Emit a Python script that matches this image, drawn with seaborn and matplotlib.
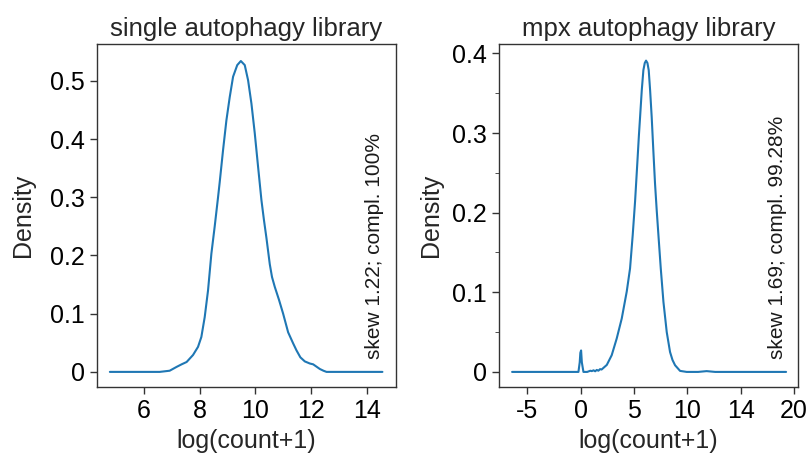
import numpy as np
import pandas as pd
import matplotlib
matplotlib.use("Agg")
import matplotlib.pyplot as plt
from matplotlib.ticker import AutoMinorLocator
import seaborn as sns

# density curves (log(count+1) vs density)
single_x = [4.77, 6.0, 6.56, 6.92, 7.17, 7.35, 7.53, 7.76, 7.94, 8.06, 8.18, 8.30,
            8.42, 8.54, 8.66, 8.72, 8.84, 8.96, 9.08, 9.20, 9.35, 9.48, 9.62,
            9.74, 9.86, 9.98, 10.10, 10.22, 10.31, 10.40, 10.52, 10.60, 10.70,
            10.85, 11.0, 11.18, 11.36, 11.48, 11.62, 11.78, 11.96, 12.08, 12.20,
            12.32, 12.45, 12.56, 13.5, 14.57]
single_density = [0.0, 0.0, 0.0, 0.002, 0.0086, 0.013, 0.017, 0.029, 0.043, 0.060,
                  0.094, 0.140, 0.203, 0.250, 0.300, 0.326, 0.381, 0.432, 0.472,
                  0.507, 0.527, 0.534, 0.527, 0.501, 0.461, 0.410, 0.352, 0.295,
                  0.261, 0.230, 0.185, 0.163, 0.146, 0.124, 0.100, 0.068, 0.049,
                  0.037, 0.025, 0.018, 0.0144, 0.013, 0.009, 0.005, 0.002, 0.0,
                  0.0, 0.0]

mpx_x = [-6.44, -2.0, -0.22, -0.1, -0.04, 0.03, 0.1, 0.25, 0.6, 0.9, 1.03, 1.2,
         1.35, 1.5, 1.65, 1.81, 1.95, 2.12, 2.44, 2.9, 3.37, 3.84, 4.31, 4.62,
         4.87, 5.09, 5.30, 5.45, 5.56, 5.72, 5.87, 6.0, 6.12, 6.25, 6.37, 6.50,
         6.65, 6.80, 6.96, 7.12, 7.28, 7.50, 7.75, 8.06, 8.37, 8.60, 8.84, 9.31,
         9.93, 11.0, 11.8, 12.6, 15.0, 19.25]
mpx_density = [0.0, 0.0, 0.0, 0.012, 0.024, 0.027, 0.012, 0.0, 0.0, 0.0015, 0.001,
               0.002, 0.0008, 0.0025, 0.0015, 0.0035, 0.003, 0.005, 0.0088, 0.021,
               0.042, 0.067, 0.101, 0.130, 0.172, 0.214, 0.262, 0.297, 0.320,
               0.354, 0.379, 0.388, 0.391, 0.388, 0.379, 0.354, 0.320, 0.279,
               0.237, 0.203, 0.172, 0.130, 0.088, 0.050, 0.025, 0.015, 0.0084,
               0.0013, 0.0, 0.0, 0.001, 0.0, 0.0, 0.0]

titles = ["single autophagy library", "mpx autophagy library"]
notes = ["skew 1.22; compl. 100%", "skew 1.69; compl. 99.28%"]

single_xticks = [6, 8, 10, 12, 14]
single_xticklabels = ["6", "8", "10", "12", "14"]
single_yticks = [0, 0.1, 0.2, 0.3, 0.4, 0.5]
single_yticklabels = ["0", "0.1", "0.2", "0.3", "0.4", "0.5"]

mpx_xticks = [-5, 0, 5, 10, 15, 20]
mpx_xticklabels = ["-5", "0", "5", "10", "14", "20"]
mpx_yticks = [0, 0.1, 0.2, 0.3, 0.4]
mpx_yticklabels = ["0", "0.1", "0.2", "0.3", "0.4"]

sns.set_style("ticks")
plt.rcParams["font.family"] = ["Liberation Sans", "DejaVu Sans"]
plt.rcParams["axes.edgecolor"] = "#333333"
plt.rcParams["xtick.color"] = "#333333"
plt.rcParams["ytick.color"] = "#333333"
plt.rcParams["xtick.labelcolor"] = "black"
plt.rcParams["ytick.labelcolor"] = "black"

fig = plt.figure(figsize=(8.11, 4.55), dpi=100)
ax1 = fig.add_axes([0.119, 0.149, 0.369, 0.754])
ax2 = fig.add_axes([0.615, 0.149, 0.369, 0.754])

panels = [
    (ax1, single_x, single_density, single_xticks, single_xticklabels,
     single_yticks, single_yticklabels, (4.29, 15.05), (-0.0263, 0.563), 11),
    (ax2, mpx_x, mpx_density, mpx_xticks, mpx_xticklabels,
     mpx_yticks, mpx_yticklabels, (-7.69, 20.37), (-0.0192, 0.4117), 6.5),
]

for i, (ax, xs, ys, xt, xtl, yt, ytl, xlim, ylim, pad) in enumerate(panels):
    df = pd.DataFrame({"x": xs, "density": ys})
    sns.lineplot(data=df, x="x", y="density", ax=ax, color="#1f77b4",
                 linewidth=1.5, estimator=None)
    ax.set_xlim(*xlim)
    ax.set_ylim(*ylim)
    ax.set_xticks(xt)
    ax.set_xticklabels(xtl)
    ax.set_yticks(yt)
    ax.set_yticklabels(ytl)
    ax.tick_params(labelsize=18, length=5, width=1)
    ax.set_xlabel("log(count+1)", fontsize=18)
    ax.set_ylabel("Density", fontsize=18, labelpad=pad)
    ax.set_title(titles[i], fontsize=18.5, color="#262626")
    ax.text(0.93, 0.082, notes[i], transform=ax.transAxes, rotation=90,
            ha="center", va="bottom", fontsize=15, color="#1a1a1a")
    for s in ax.spines.values():
        s.set_linewidth(1)

ax2.yaxis.set_minor_locator(AutoMinorLocator(2))
ax2.tick_params(axis="y", which="minor", length=3)

fig.savefig("out.png", dpi=100)
